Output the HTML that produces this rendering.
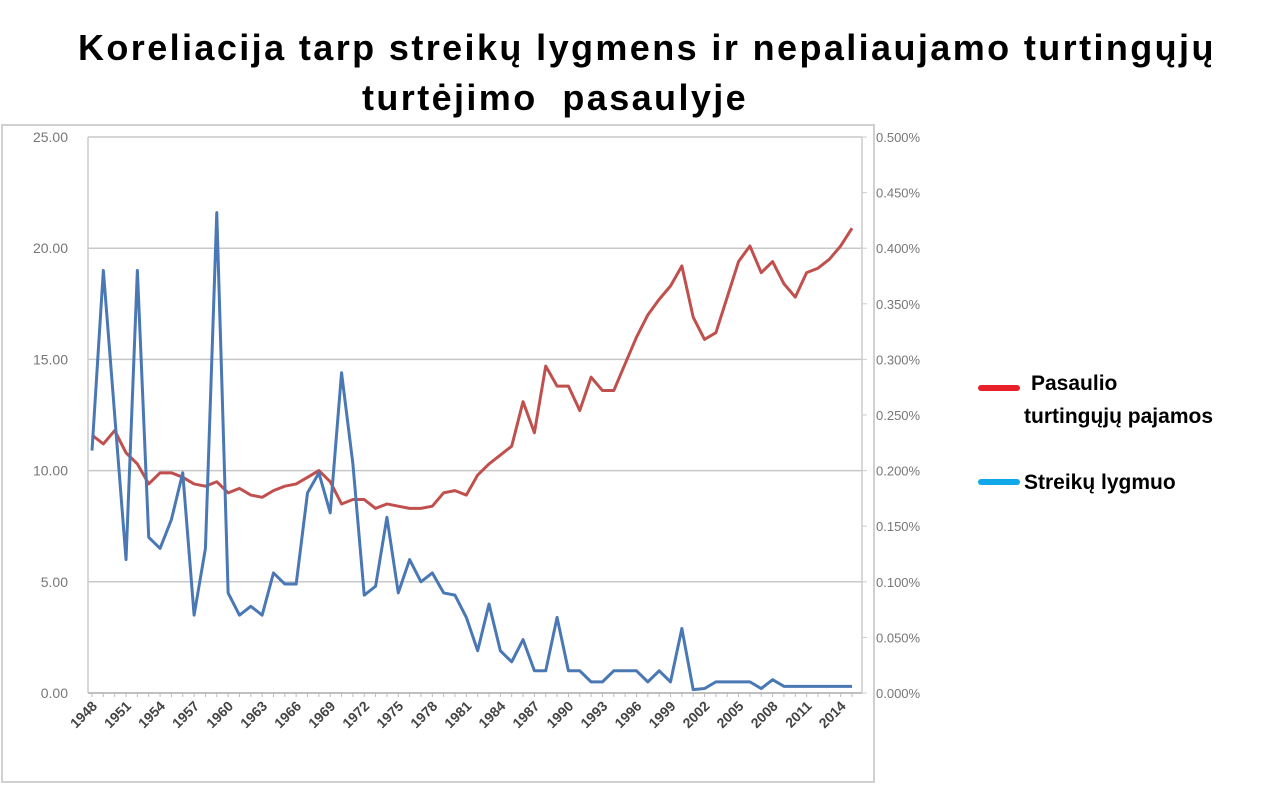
<!DOCTYPE html>
<html><head><meta charset="utf-8">
<style>
body{margin:0;background:#fff;width:1280px;height:786px;overflow:hidden;font-family:"Liberation Sans",sans-serif;}
.t{position:absolute;font-weight:bold;font-size:36px;letter-spacing:2.4px;color:#000;white-space:nowrap;line-height:40px;}
</style></head><body>
<div class="t" style="left:78px;top:28px;">Koreliacija tarp streikų lygmens ir nepaliaujamo turtingųjų</div>
<div class="t" style="left:362px;top:78px;">turtėjimo&nbsp; pasaulyje</div>
<svg id="chart" width="1280" height="786" style="position:absolute;left:0;top:0">
<rect x="2" y="125" width="872" height="657" fill="none" stroke="#d0d0d0" stroke-width="2"/>
<g id="grid"></g><g id="axes"></g><g id="lines"></g>
<g>
<rect x="978" y="385" width="42" height="6" rx="3" fill="#e8202a"/>
<text x="1031" y="390" font-size="21" font-weight="bold" font-family="Liberation Sans">Pasaulio</text>
<text x="1024" y="423" font-size="21" font-weight="bold" font-family="Liberation Sans">turtingųjų pajamos</text>
<rect x="978" y="479" width="42" height="6" rx="3" fill="#10a8e8"/>
<text x="1024" y="489" font-size="21" font-weight="bold" font-family="Liberation Sans">Streikų lygmuo</text>
</g>
</svg>
<script>
const years=[];for(let y=1948;y<=2015;y++)years.push(y);
const strikes=[10.9,19.0,12.5,6.0,19.0,7.0,6.5,7.8,9.9,3.5,6.5,21.6,4.5,3.5,3.9,3.5,5.4,4.9,4.9,9.0,9.9,8.1,14.4,10.3,4.4,4.8,7.9,4.5,6.0,5.0,5.4,4.5,4.4,3.4,1.9,4.0,1.9,1.4,2.4,1.0,1.0,3.4,1.0,1.0,0.5,0.5,1.0,1.0,1.0,0.5,1.0,0.5,2.9,0.15,0.2,0.5,0.5,0.5,0.5,0.2,0.6,0.3,0.3,0.3,0.3,0.3,0.3,0.3];
const richPct=[0.232,0.224,0.236,0.216,0.206,0.188,0.198,0.198,0.194,0.188,0.186,0.19,0.18,0.184,0.178,0.176,0.182,0.186,0.188,0.194,0.2,0.19,0.17,0.174,0.174,0.166,0.17,0.168,0.166,0.166,0.168,0.18,0.182,0.178,0.196,0.206,0.214,0.222,0.262,0.234,0.294,0.276,0.276,0.254,0.284,0.272,0.272,0.296,0.32,0.34,0.354,0.366,0.384,0.338,0.318,0.324,0.356,0.388,0.402,0.378,0.388,0.368,0.356,0.378,0.382,0.39,0.402,0.418];
const leftTicks=["0.00","5.00","10.00","15.00","20.00","25.00"];
const rightTicks=["0.000%","0.050%","0.100%","0.150%","0.200%","0.250%","0.300%","0.350%","0.400%","0.450%","0.500%"];
const X0=88,X1=862,Y0=693,Y1=137;
const x=i=>92+i*(852-92)/(years.length-1);
const yL=v=>Y0-v/25*(Y0-Y1);
const yR=v=>Y0-v/0.5*(Y0-Y1);
const NS="http://www.w3.org/2000/svg";
function mk(p,t,a){const e=document.createElementNS(NS,t);for(const k in a)e.setAttribute(k,a[k]);p.appendChild(e);return e;}
const grid=document.getElementById('grid'),axes=document.getElementById('axes'),lines=document.getElementById('lines');
leftTicks.forEach(t=>{const v=parseFloat(t),yy=yL(v);
 const g=mk(grid,'line',{x1:X0,x2:X1,y1:yy,y2:yy,stroke:'#c8c8c8','stroke-width':1.5});
 
 
 const tx=mk(axes,'text',{x:68,y:yy+5,'text-anchor':'end','font-size':14,fill:'#777','font-family':'Liberation Sans'});tx.textContent=t;
 
 
});
rightTicks.forEach(t=>{const v=parseFloat(t),yy=yR(v);
 mk(axes,'line',{x1:X1,x2:X1+5,y1:yy,y2:yy,stroke:'#ccc'});
 const tx=mk(axes,'text',{x:876,y:yy+5,'font-size':13,fill:'#777','font-family':'Liberation Sans'});tx.textContent=t;
 
 
});
mk(axes,'line',{x1:X0,x2:X0,y1:Y1,y2:Y0,stroke:'#ccc','stroke-width':1.5});
mk(axes,'line',{x1:X1,x2:X1,y1:Y1,y2:Y0,stroke:'#ccc','stroke-width':1.5});
mk(axes,'line',{x1:X0,x2:X1,y1:Y0,y2:Y0,stroke:'#c0c0c0','stroke-width':2});
years.forEach((yr,i)=>{mk(axes,'line',{x1:x(i),x2:x(i),y1:Y0,y2:Y0+4,stroke:'#bbb'});
 if((yr-1948)%3===0){const tx=mk(axes,'text',{x:x(i)+6,y:Y0+14,'text-anchor':'end','font-size':14,'font-weight':'bold',fill:'#444','font-family':'Liberation Sans',transform:`rotate(-45 ${x(i)+6} ${Y0+14})`});tx.textContent=yr;
 
 }
});
const r=mk(lines,'polyline',{points:richPct.map((v,i)=>x(i)+','+yR(v)).join(' '),fill:'none',stroke:'#c0504d','stroke-width':3,'stroke-linejoin':'round'});


const b=mk(lines,'polyline',{points:strikes.map((v,i)=>x(i)+','+yL(v)).join(' '),fill:'none',stroke:'#4a78b4','stroke-width':3,'stroke-linejoin':'round'});


</script>
</body></html>
